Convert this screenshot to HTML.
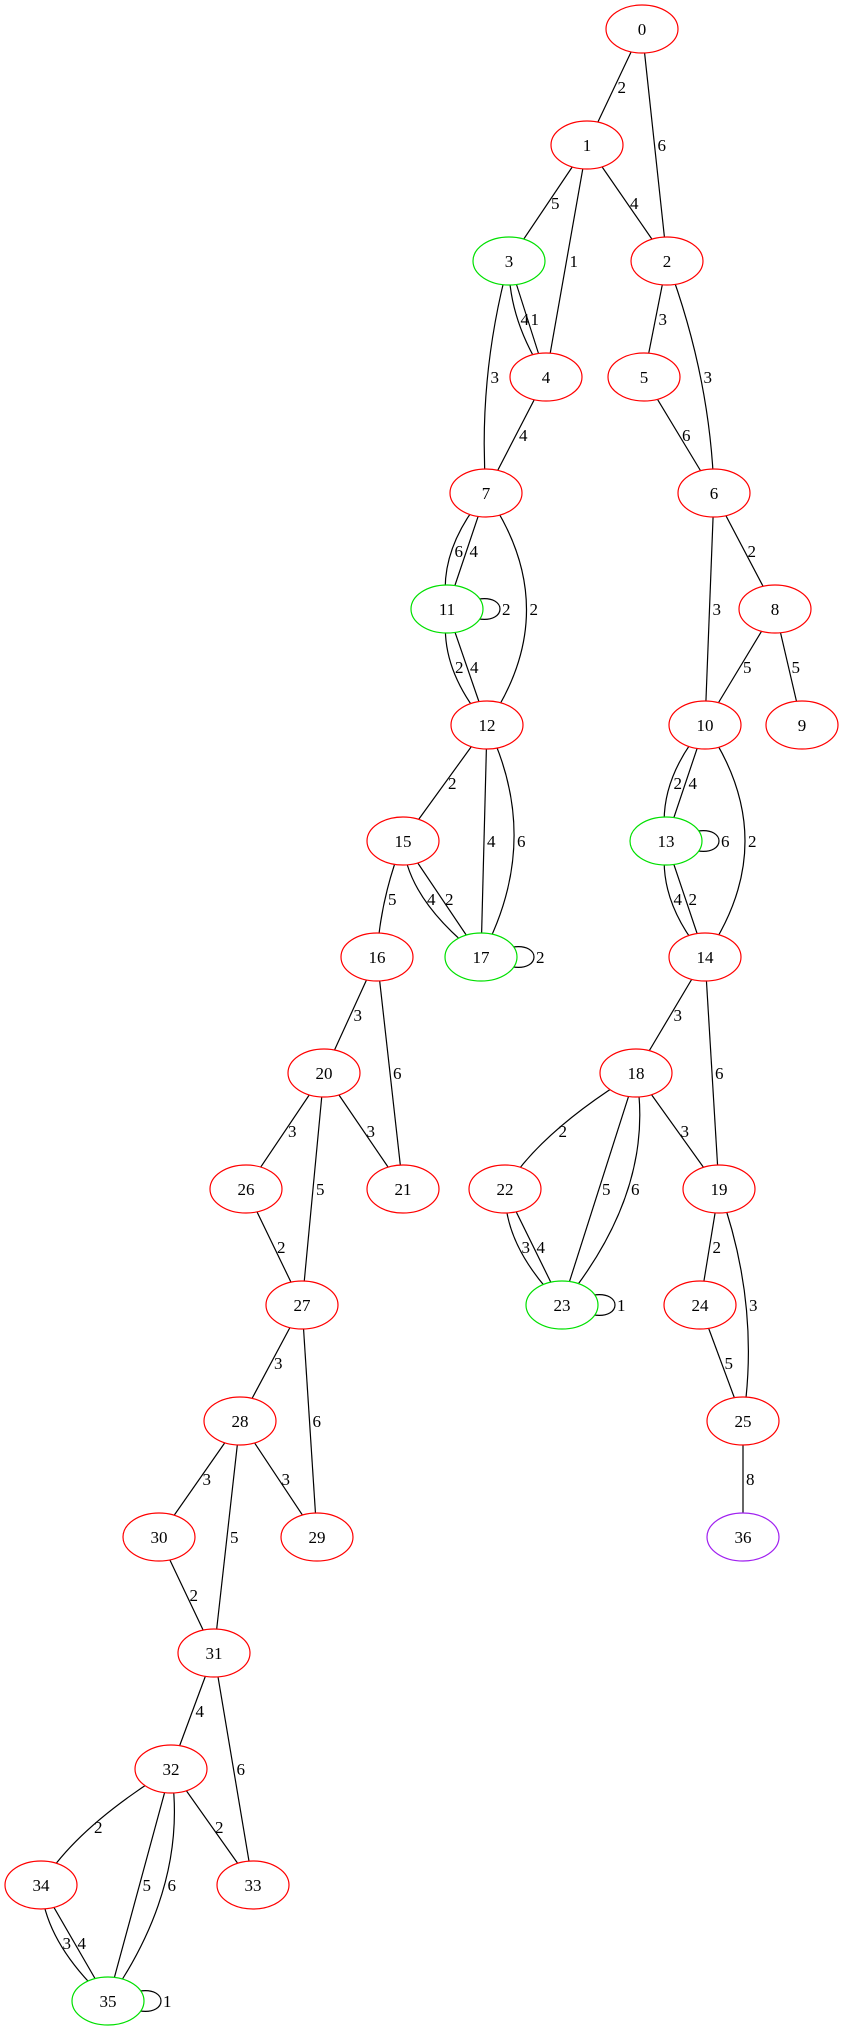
<!DOCTYPE html>
<html><head><meta charset="utf-8"><style>
html,body{margin:0;padding:0;background:#fff;width:844px;height:2031px;overflow:hidden}
svg text{font-family:"Liberation Serif",serif;font-size:17px;fill:#000}
</style></head><body>
<svg id="g" width="844" height="2031" viewBox="0 0 844 2031"></svg>
<script>
const nodeIds=[0,1,2,3,4,5,6,7,8,9,10,11,12,13,14,15,16,17,18,19,20,21,22,23,24,25,26,27,28,29,30,31,32,33,34,35,36];
const nodeX=[642,587,667,509,546,644,714,486,775,802,705,447,487,666,705,403,377,481,636,719,324,403,505,562,700,743,246,302,240,317,159,214,171,253,41,108,743];
const nodeRank=[0,1,2,2,3,3,4,4,5,6,6,5,6,7,8,7,8,8,9,10,9,10,10,11,11,12,10,11,12,13,13,14,15,16,16,17,13];
const nodeColor=["red","red","red","#00e000","red","red","red","red","red","red","red","#00e000","red","#00e000","red","red","red","#00e000","red","red","red","red","red","#00e000","red","red","red","red","red","red","red","red","red","red","red","#00e000","#a020f0"];
const edgeFrom=[0,0,1,1,1,3,3,3,4,2,2,5,7,7,7,11,11,6,6,8,8,12,12,12,10,10,10,13,13,15,15,15,16,16,14,14,20,20,20,18,18,18,18,26,22,22,19,19,24,27,27,25,28,28,28,30,31,31,32,32,32,32,34,34];
const edgeTo=[1,2,3,4,2,4,4,7,7,5,6,6,11,11,12,12,12,10,8,10,9,15,17,17,13,13,14,14,14,16,17,17,20,21,18,19,26,27,21,22,23,23,19,27,23,23,24,25,25,28,29,36,30,31,29,31,32,33,34,35,35,33,35,35];
const edgeWeight=["2","6","5","1","4","4","1","3","4","3","3","6","6","4","2","2","4","3","2","5","5","2","4","6","2","4","2","4","2","5","4","2","3","6","3","6","3","5","3","2","5","6","3","2","3","4","2","3","5","3","6","8","3","5","3","2","4","6","2","5","6","2","3","4"];
const edgeBend=[0,0,0,0,0,-20,0,-20,0,0,20,0,-30,0,80,-30,0,0,0,0,0,0,0,60,-30,0,80,-30,0,-10,-36,0,0,0,0,0,0,0,0,-30,0,58,0,0,-30,0,0,30,0,0,0,0,0,0,0,0,0,0,-30,0,50,0,-30,0];
const loopNodes=[11,13,17,23,35];
const loopWeight=["2","6","2","1","1"];
const RX=36,RY=24;
const yOf=r=>29+116*r;
const svg=document.getElementById('g');
const NS='http://www.w3.org/2000/svg';
function mk(t,a){const e=document.createElementNS(NS,t);for(const k in a)e.setAttribute(k,a[k]);svg.appendChild(e);return e;}
for(let i=0;i<edgeFrom.length;i++){
  const a=edgeFrom[i],b=edgeTo[i];
  const x1=nodeX[a],y1=yOf(nodeRank[a]),x2=nodeX[b],y2=yOf(nodeRank[b]);
  const cx=(x1+x2)/2+edgeBend[i],cy=(y1+y2)/2;
  const p=mk('path',{d:`M${x1},${y1} Q${cx},${cy} ${x2},${y2}`,fill:'none',stroke:'#000','stroke-width':1.2});
  
  
  const mx=(x1+x2)/2+edgeBend[i]/2,my=(y1+y2)/2;
  const t=mk('text',{x:mx+3,y:my+6});
  t.textContent=edgeWeight[i];
  
  
}
for(let j=0;j<loopNodes.length;j++){
  const n=loopNodes[j],x=nodeX[n]+RX-4,y=yOf(nodeRank[n]);
  const p=mk('path',{d:`M${x},${y-10} C${x+28},${y-14} ${x+28},${y+14} ${x},${y+10}`,fill:'none',stroke:'#000','stroke-width':1.2});
  
  
  const t=mk('text',{x:x+23,y:y+6});
  t.textContent=loopWeight[j];
  
  
}
for(let i=0;i<nodeIds.length;i++){
  const x=nodeX[i],y=yOf(nodeRank[i]);
  const e=mk('ellipse',{cx:x,cy:y,rx:RX,ry:RY,fill:'#fff',stroke:nodeColor[i],'stroke-width':1.2});
  
  
  const t=mk('text',{x:x,y:y+6,'text-anchor':'middle'});
  t.textContent=String(nodeIds[i]);
  
  
}
</script>
</body></html>
